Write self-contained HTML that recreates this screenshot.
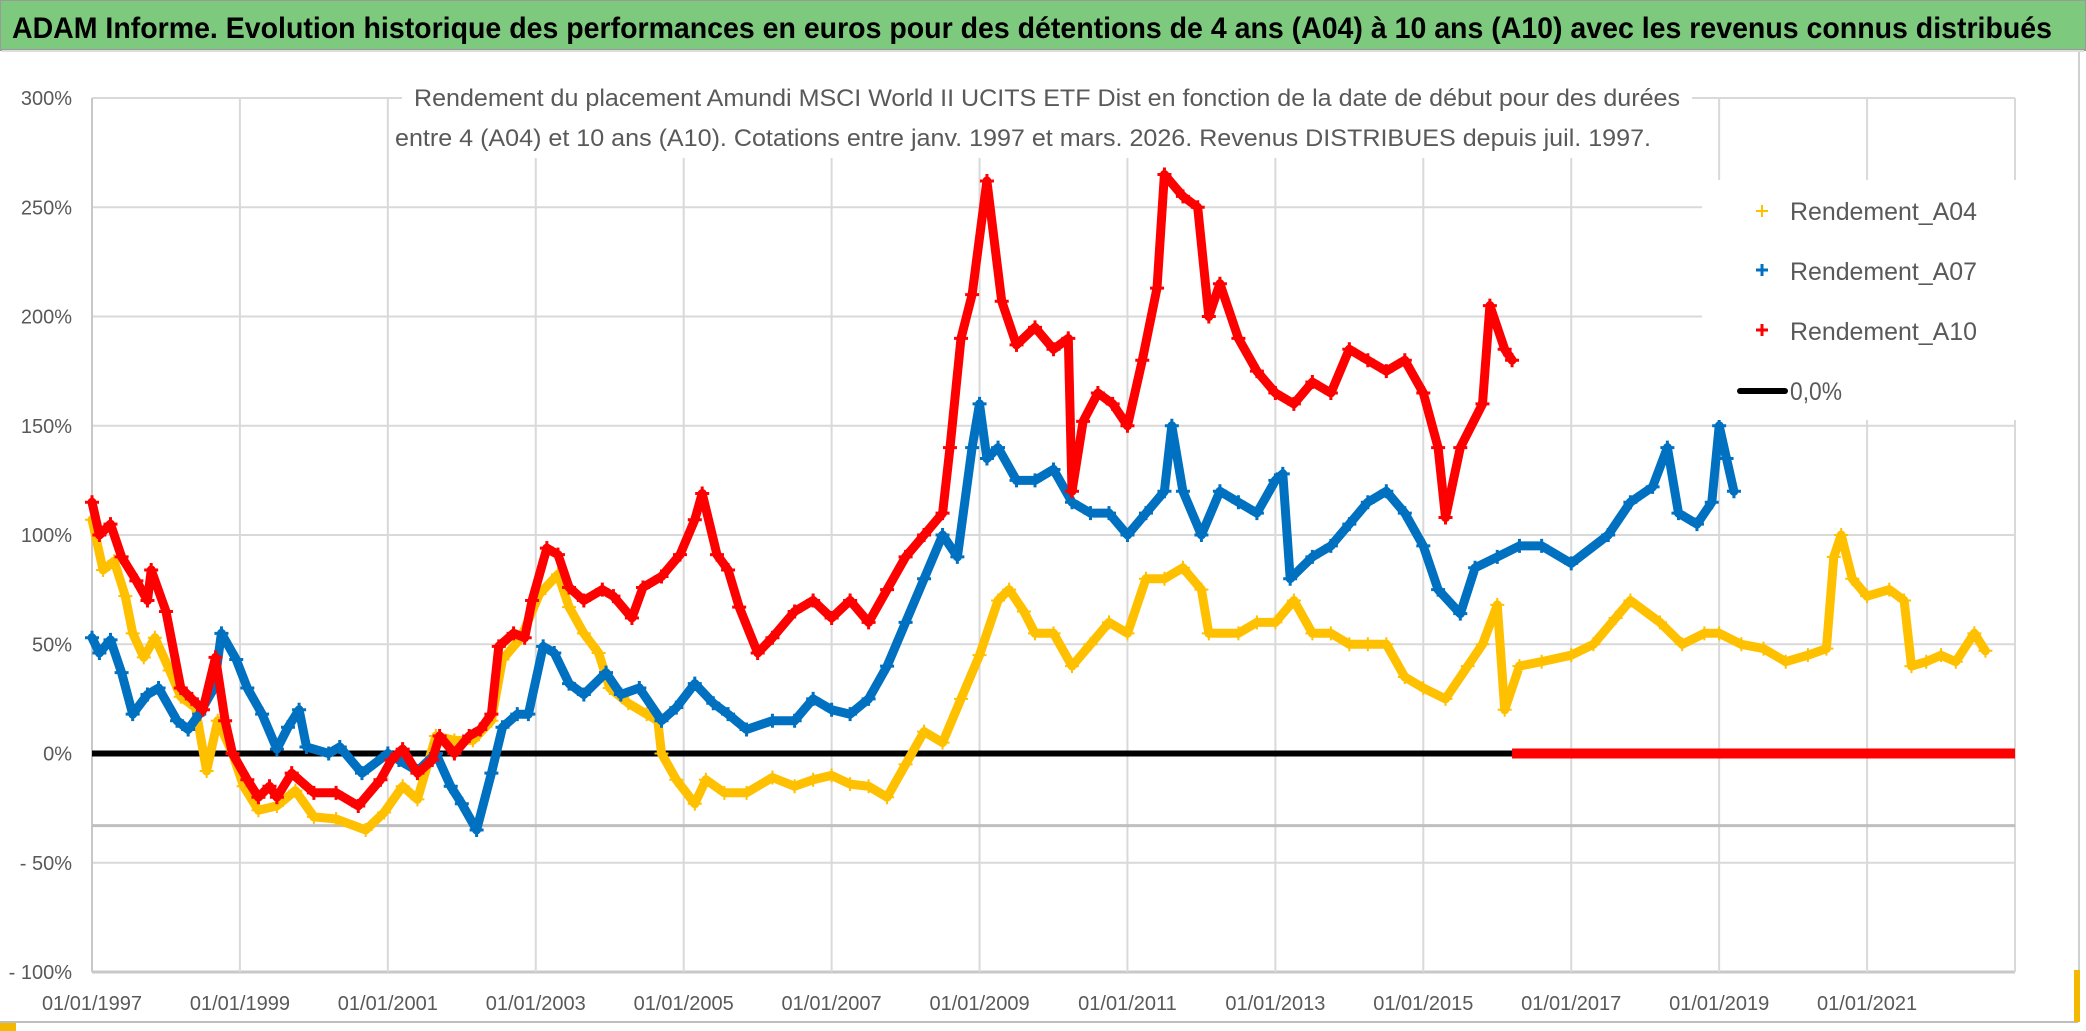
<!DOCTYPE html>
<html><head><meta charset="utf-8"><style>
html,body{margin:0;padding:0;background:#fff;}
svg{display:block;font-family:"Liberation Sans",sans-serif;}
</style></head><body>
<svg id="chart" width="2086" height="1031" viewBox="0 0 2086 1031" xmlns="http://www.w3.org/2000/svg">
<rect x="0" y="0" width="2086" height="1031" fill="#fff"/>
<rect x="0" y="0" width="2086" height="50" fill="#7DC97D" stroke="#9a9a9a" stroke-width="2"/>
<text x="12" y="38" font-size="30" font-weight="bold" fill="#000" textLength="2040" lengthAdjust="spacingAndGlyphs">ADAM Informe. Evolution historique des performances en euros pour des détentions de 4 ans (A04) à 10 ans (A10) avec les revenus connus distribués</text>
<line x1="2" y1="51" x2="2084" y2="51" stroke="#ddd" stroke-width="2"/>
<g id="grid"></g>
<g id="series"></g>
<rect x="402" y="78" width="1290" height="80" fill="#fff"/>
<text x="1047" y="106" font-size="24" fill="#595959" text-anchor="middle" textLength="1266" lengthAdjust="spacingAndGlyphs">Rendement du placement Amundi MSCI World II UCITS ETF Dist en fonction de la date de début pour des durées</text>
<text x="1023" y="146" font-size="24" fill="#595959" text-anchor="middle" textLength="1256" lengthAdjust="spacingAndGlyphs">entre 4 (A04) et 10 ans (A10). Cotations entre janv. 1997 et mars. 2026. Revenus DISTRIBUES depuis juil. 1997.</text>
<g>
<rect x="1702" y="180" width="314" height="240" fill="#fff"/>
<g>
<path d="M1756 211h12M1762 205v12" stroke="#FFC000" stroke-width="2"/>
<text x="1790" y="220" font-size="25" fill="#595959" textLength="187" lengthAdjust="spacingAndGlyphs">Rendement_A04</text></g>
<g>
<path d="M1756 270h12M1762 264v12" stroke="#0070C0" stroke-width="3"/>
<text x="1790" y="280" font-size="25" fill="#595959" textLength="187" lengthAdjust="spacingAndGlyphs">Rendement_A07</text></g>
<g>
<path d="M1756 330h12M1762 324v12" stroke="#FF0000" stroke-width="3"/>
<text x="1790" y="340" font-size="25" fill="#595959" textLength="187" lengthAdjust="spacingAndGlyphs">Rendement_A10</text></g>
<g>
<line x1="1740" y1="391" x2="1785" y2="391" stroke="#000" stroke-width="6" stroke-linecap="round"/>
<text x="1790" y="400" font-size="25" fill="#595959" textLength="52" lengthAdjust="spacingAndGlyphs">0,0%</text></g>
</g>
<line x1="0" y1="1022" x2="2078" y2="1022" stroke="#bdbdbd" stroke-width="2"/>
<line x1="2079" y1="52" x2="2079" y2="1022" stroke="#d0d0d0" stroke-width="2"/>
<rect x="0" y="1023" width="16" height="8" fill="#F5B800"/>
<rect x="2074" y="970" width="6" height="52" fill="#F5B800"/>
</svg>
<script>
const yTicks=[300,250,200,150,100,50,0,-50,-100];
const yTickLabels=["300%","250%","200%","150%","100%","50%","0%","- 50%","- 100%"];
const xTicks=[1997,1999,2001,2003,2005,2007,2009,2011,2013,2015,2017,2019,2021];
const xTickLabels=["01/01/1997","01/01/1999","01/01/2001","01/01/2003","01/01/2005","01/01/2007","01/01/2009","01/01/2011","01/01/2013","01/01/2015","01/01/2017","01/01/2019","01/01/2021"];
const a04Dates=[1997.0,1997.15,1997.3,1997.45,1997.55,1997.7,1997.85,1998.05,1998.2,1998.4,1998.55,1998.7,1998.9,1999.05,1999.25,1999.5,1999.75,2000.0,2000.3,2000.7,2000.95,2001.2,2001.4,2001.65,2001.9,2002.15,2002.4,2002.55,2002.8,2003.05,2003.3,2003.45,2003.65,2003.85,2004.0,2004.25,2004.5,2004.65,2004.7,2004.9,2005.15,2005.3,2005.55,2005.85,2006.2,2006.5,2006.75,2007.0,2007.25,2007.5,2007.75,2008.0,2008.25,2008.5,2008.75,2009.0,2009.25,2009.4,2009.6,2009.75,2010.0,2010.25,2010.5,2010.75,2011.0,2011.25,2011.5,2011.75,2012.0,2012.1,2012.5,2012.75,2013.0,2013.25,2013.5,2013.75,2014.0,2014.25,2014.5,2014.75,2015.0,2015.3,2015.6,2015.8,2016.0,2016.1,2016.3,2016.6,2017.0,2017.3,2017.6,2017.8,2018.2,2018.5,2018.8,2019.0,2019.3,2019.6,2019.9,2020.2,2020.45,2020.55,2020.65,2020.8,2021.0,2021.3,2021.5,2021.6,2021.8,2022.0,2022.2,2022.45,2022.6];
const a04Values=[107,84,88,72,55,44,53,38,26,21,-8,15,0,-15,-26,-24,-17,-29,-30,-35,-27,-15,-21,8,6,6,15,43,53,73,82,67,55,46,30,23,18,15,0,-12,-23,-12,-18,-18,-11,-15,-12,-10,-14,-15,-20,-5,10,5,25,45,70,75,65,55,55,40,50,60,55,80,80,85,75,55,55,60,60,70,55,55,50,50,50,35,30,25,40,50,68,20,40,42,45,50,62,70,60,50,55,55,50,48,42,45,48,90,100,80,72,75,70,40,42,45,42,55,47];
const a07Dates=[1997.0,1997.1,1997.25,1997.4,1997.55,1997.75,1997.9,1998.15,1998.3,1998.45,1998.65,1998.75,1998.95,1999.1,1999.3,1999.5,1999.65,1999.8,1999.9,2000.2,2000.35,2000.65,2001.0,2001.15,2001.4,2001.65,2001.85,2002.0,2002.2,2002.4,2002.55,2002.75,2002.9,2003.1,2003.25,2003.45,2003.65,2003.95,2004.15,2004.4,2004.7,2004.9,2005.15,2005.4,2005.6,2005.85,2006.2,2006.5,2006.75,2007.0,2007.25,2007.5,2007.75,2008.0,2008.25,2008.5,2008.7,2008.9,2009.0,2009.1,2009.25,2009.5,2009.75,2010.0,2010.25,2010.5,2010.75,2011.0,2011.25,2011.5,2011.6,2011.75,2012.0,2012.25,2012.5,2012.75,2013.0,2013.1,2013.2,2013.5,2013.75,2014.0,2014.25,2014.5,2014.75,2015.0,2015.2,2015.5,2015.7,2016.0,2016.3,2016.6,2017.0,2017.5,2017.8,2018.1,2018.3,2018.45,2018.7,2018.9,2019.0,2019.1,2019.2];
const a07Values=[53,46,52,37,18,27,30,15,11,18,30,55,43,30,18,2,12,20,3,0,3,-9,0,-3,-8,0,-15,-23,-35,-9,12,18,18,49,46,32,27,37,27,30,15,21,32,23,18,11,15,15,25,20,18,25,40,60,80,100,90,140,160,135,140,125,125,130,115,110,110,100,110,120,150,120,100,120,115,110,125,128,80,90,95,105,115,120,110,95,75,64,85,90,95,95,87,100,115,122,140,110,105,115,150,135,120];
const a10Dates=[1997.0,1997.1,1997.25,1997.4,1997.6,1997.75,1997.8,1998.0,1998.2,1998.35,1998.5,1998.67,1998.8,1998.9,1999.1,1999.25,1999.4,1999.5,1999.7,2000.0,2000.3,2000.6,2000.9,2001.05,2001.2,2001.4,2001.6,2001.7,2001.9,2002.1,2002.25,2002.4,2002.5,2002.7,2002.85,2002.95,2003.15,2003.3,2003.45,2003.65,2003.9,2004.05,2004.3,2004.45,2004.7,2004.95,2005.15,2005.25,2005.45,2005.6,2005.75,2006.0,2006.2,2006.5,2006.75,2007.0,2007.25,2007.5,2007.75,2008.0,2008.25,2008.5,2008.6,2008.75,2008.9,2009.1,2009.3,2009.5,2009.75,2010.0,2010.2,2010.25,2010.4,2010.6,2010.8,2011.0,2011.2,2011.4,2011.5,2011.75,2011.95,2012.1,2012.25,2012.5,2012.75,2013.0,2013.25,2013.5,2013.75,2014.0,2014.25,2014.5,2014.75,2015.0,2015.2,2015.3,2015.5,2015.8,2015.9,2016.1,2016.2];
const a10Values=[115,100,105,90,79,70,84,65,30,25,20,44,15,0,-12,-20,-15,-20,-9,-18,-18,-24,-12,-3,2,-9,-3,8,0,8,11,18,49,55,53,70,94,91,76,70,75,72,62,76,81,91,107,119,91,84,67,46,53,65,70,62,70,60,75,90,100,110,140,190,210,262,207,187,195,185,190,120,152,165,160,150,180,213,265,255,250,200,215,190,175,165,160,170,165,185,180,175,180,165,140,108,140,160,205,185,180];
const zeroRunStart=2016.2, zeroRunEnd=2023.0;
const refLineValue=-33;

const NS="http://www.w3.org/2000/svg";
const X0=92,X1=2015,Y300=98,YM100=972;
function xs(t){return X0+(t-1997)*(X1-X0)/26;}
function ys(v){return Y300+(300-v)*(YM100-Y300)/400;}
function mk(tag,attrs,parent){const e=document.createElementNS(NS,tag);for(const k in attrs)e.setAttribute(k,attrs[k]);parent.appendChild(e);return e;}
const grid=document.getElementById('grid');
const ser=document.getElementById('series');
const svg=document.getElementById('chart');
for(let i=0;i<yTicks.length;i++){
  const y=ys(yTicks[i]);
  const l=mk('line',{x1:X0,x2:X1,y1:y,y2:y,stroke:yTicks[i]===-100?'#c8c8c8':'#d9d9d9','stroke-width':yTicks[i]===-100?3:2},grid);
  
  
  const t=mk('text',{x:72,y:y+7,'font-size':20,fill:'#595959','text-anchor':'end'},grid);
  t.textContent=yTickLabels[i];
  
  
}
for(let i=0;i<xTicks.length;i++){
  const x=xs(xTicks[i]);
  const l=mk('line',{x1:x,x2:x,y1:Y300,y2:YM100,stroke:i===0?'#c8c8c8':'#d9d9d9','stroke-width':2},grid);
  
  
  const t=mk('text',{x:x,y:1010,'font-size':20,fill:'#595959','text-anchor':'middle'},grid);
  t.textContent=xTickLabels[i];
  
  
}
{const x=xs(2023);const l=mk('line',{x1:x,x2:x,y1:Y300,y2:YM100,stroke:'#d9d9d9','stroke-width':2},grid);

}
// reference gray line
const rl=mk('line',{x1:X0,x2:X1,y1:ys(refLineValue),y2:ys(refLineValue),stroke:'#bfbfbf','stroke-width':3},ser);


// zero line
const zl=mk('line',{x1:X0,x2:X1,y1:ys(0),y2:ys(0),stroke:'#000','stroke-width':6},ser);


function drawSeries(dates,vals,color,sw,name){
  const g=mk('g',{},ser);
  
  
  const pts=dates.map((d,i)=>xs(d).toFixed(1)+','+ys(vals[i]).toFixed(1)).join(' ');
  const pl=mk('polyline',{points:pts,fill:'none',stroke:color,'stroke-width':9,'stroke-linejoin':'round','stroke-linecap':'round'},g);
  
  
  for(let i=0;i<dates.length;i++){
    const x=xs(dates[i]),y=ys(vals[i]);
    const p=mk('path',{d:`M${x-7} ${y}h14M${x} ${y-7}v14`,stroke:color,'stroke-width':sw},g);
    
    
  }
}
drawSeries(a04Dates,a04Values,'#FFC000',2,'series-a04');
drawSeries(a07Dates,a07Values,'#0070C0',3,'series-a07');
drawSeries(a10Dates,a10Values,'#FF0000',3,'series-a10');
// A10 zero run
const zr=mk('line',{x1:xs(zeroRunStart),x2:xs(zeroRunEnd),y1:ys(0),y2:ys(0),stroke:'#FF0000','stroke-width':10},ser);


</script>
</body></html>
